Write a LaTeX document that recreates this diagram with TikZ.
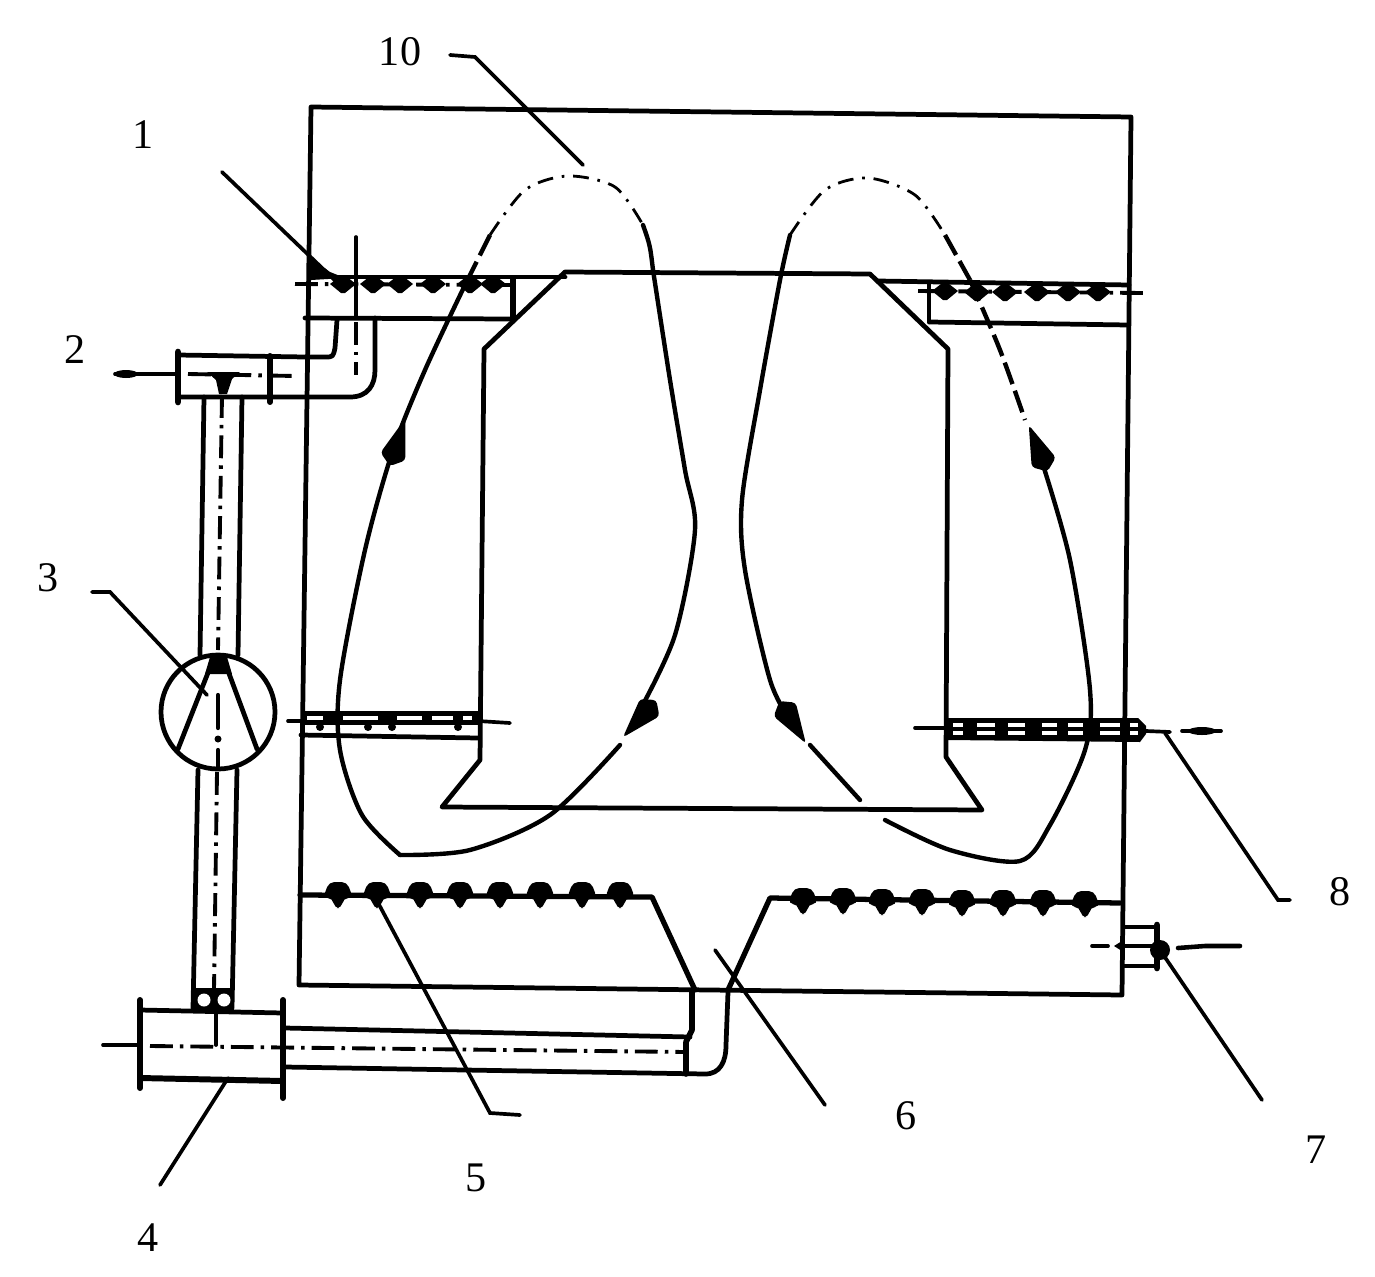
\documentclass[tikz,border=0pt]{standalone}
\usepackage{fontspec}
\setmainfont{Liberation Serif}
\tikzset{
 ln/.style={line width=2.7pt,line cap=round,line join=round},
 thn/.style={line width=2.1pt,line cap=round},
 cl/.style={line width=2.2pt,dash pattern=on 13pt off 4pt on 2pt off 4pt},
 flowdash/.style={line width=1.6pt,dash pattern=on 9pt off 5pt on 1.5pt off 5pt},
 flowlong/.style={line width=2.5pt,dash pattern=on 13pt off 4pt},
 flow/.style={line width=2.5pt,line cap=round,line join=round},
 lab/.style={font=\fontsize{24}{24}\selectfont,inner sep=0pt}
}
\newcommand\dia[2]{\fill[shift={(#1,#2)}] (-13,0) -- (-4,-7) -- (4,-7) -- (13,0) -- (2,9) -- (-2,9) -- cycle;}
\newcommand\blob[2]{\fill[shift={(#1,#2)},rounded corners=3pt] (-15,5) -- (-9,-11) -- (9,-11) -- (15,5) -- (5,5) -- (4,15) -- (-4,15) -- (-5,5) -- cycle;}
\newcommand\head[3]{\fill[shift={(#1,#2)},rotate=#3,rounded corners=2pt] (30,0) -- (-10,-13) -- (-20,0) -- (-10,13) -- cycle;}
\begin{document}
\begin{tikzpicture}[x=0.02cm,y=-0.02cm]
\useasboundingbox (0,0) rectangle (1375,1277);
% labels
\node[lab] (n10) at (400,52) {10};
\node[lab] (n1) at (143,135) {1};
\node[lab] (n2) at (75,350) {2};
\node[lab] (n3) at (48,578) {3};
\node[lab] (n4) at (148,1238) {4};
\node[lab] (n5) at (476,1178) {5};
\node[lab] (n6) at (906,1116) {6};
\node[lab] (n7) at (1316,1150) {7};
\node[lab] (n8) at (1340,892) {8};
% vessel
\draw[ln] (311,107) -- (1131,117) -- (1122,995) -- (299,985) -- cycle;
% inner body
\draw[ln] (565,272) -- (870,274) -- (948,349) -- (946,757) -- (982,810) -- (442,807) -- (480,760) -- (484,349) -- cycle;
% top left duct
\draw[ln] (310,277) -- (565,277);
\draw[ln] (305,318) -- (510,319);
\draw[ln,line width=3.2pt] (513,278) -- (513,318);
\draw[cl] (295,284) -- (510,285);
\foreach \x in {343,373,400,433,470,493} {\dia{\x}{284}}
\fill (311,258) -- (330,272) -- (345,278) -- (311,280) -- cycle;
% top right duct
\draw[ln] (878,281) -- (1129,285);
\draw[ln] (930,322) -- (1128,325);
\draw[ln] (929,285) -- (929,322);
\draw[cl] (918,291) -- (1143,293);
\foreach \x/\y in {945/291,977/292,1005/292,1037/292,1068/292,1098/292} {\dia{\x}{\y}}
% feed duct from 2
\draw[ln] (178,355) -- (305,357) -- (325,357) .. controls (333,357) .. (335,348) -- (337,320);
\draw[ln] (178,397) -- (350,397) .. controls (368,397) and (375,385) .. (375,370) -- (375,318);
\draw[ln,line width=3.8pt] (178,352) -- (178,402);
\draw[ln,line width=3.4pt] (270,356) -- (270,402);
\draw[cl] (188,374) -- (295,376);
\draw[thn] (115,374) -- (178,374);
\fill (126,374) ellipse[x radius=12,y radius=4];
\draw[thn] (356,237) -- (356,316);
\draw[cl] (356,322) -- (356,375);
% riser pipe
\draw[ln] (204,397) -- (200,655);
\draw[ln] (242,397) -- (238,655);
\draw[ln] (198,770) -- (193,1008);
\draw[ln] (237,770) -- (232,1008);
\draw[cl] (222,395) -- (218,650);
\draw[cl] (217,772) -- (214,990);
\fill (207,372) -- (240,372) -- (232,379) -- (227,394) -- (219,394) -- (216,380) -- cycle;
\fill (192,988) rectangle (234,1010);
\fill[white] (204,1000) circle[radius=6.5];
\fill[white] (224,1000) circle[radius=6.5];
% pump 3
\draw[ln] (218,712) circle[radius=57];
\fill (210,657) -- (227,657) -- (232,674) -- (205,674) -- cycle;
\draw[ln] (213,660) -- (178,749);
\draw[ln] (224,660) -- (257,749);
\draw[thn,line width=2.4pt] (218,695) -- (218,728);
\fill (218,739) circle[radius=3.5];
\draw[thn,line width=2.4pt] (218,750) -- (218,768);
% unit 4
\draw[ln] (140,1010) -- (283,1013);
\draw[ln,line width=3.4pt] (140,1078) -- (283,1081);
\draw[ln,line width=3.4pt] (140,1000) -- (140,1088);
\draw[ln,line width=3.4pt] (283,1000) -- (283,1098);
\draw[thn] (103,1045) -- (140,1045);
\draw[cl] (150,1046) -- (686,1052);
\draw[thn] (216,1012) -- (216,1045);
% bottom duct
\draw[ln] (285,1028) -- (690,1037);
\draw[ln] (285,1067) -- (705,1074) .. controls (720,1074) and (726,1062) .. (726,1045) -- (728,992);
\draw[ln,line width=3.2pt] (692,992) -- (692,1030) -- (686,1042) -- (686,1074);
% plates
\draw[ln,line width=3pt] (300,895) -- (652,897) -- (695,990);
\draw[ln,line width=3pt] (1120,903) -- (770,898) -- (728,990);
\foreach \x in {338,377,420,460,500,540,582,620} {\blob{\x}{893}}
\foreach \x/\y in {803/899,843/899,882/900,922/900,962/901,1003/901,1043/901,1085/902} {\blob{\x}{\y}}
% mid left duct
\fill (301,711) rectangle (478,725);
\foreach \a/\b in {307/323,343/378,397/422,432/453,463/472} {
  \fill[white] (\a,716) rectangle (\b,720);
}
\draw[ln] (301,735) -- (478,738);
\draw[thn] (288,721) -- (301,721);
\draw[thn] (478,721) -- (510,723);
\foreach \x in {320,368,392,458} {\fill (\x,727) circle[radius=4];}
% mid right duct
\fill (947,718) -- (1138,718) -- (1146,726) -- (1146,734) -- (1140,742) -- (947,740) -- cycle;
\foreach \a/\b in {953/963,977/995,1008/1025,1042/1057,1068/1083,1100/1120,1130/1138} {
  \fill[white] (\a,723) rectangle (\b,727);
  \fill[white] (\a,731) rectangle (\b,735);
}
\draw[thn] (915,728) -- (947,728);
\draw[thn] (1146,731) -- (1170,732);
\draw[thn] (1182,731) -- (1221,731);
\fill (1202,731) ellipse[x radius=14,y radius=4];
% inlet 7
\draw[ln] (1125,927) -- (1155,927);
\draw[ln] (1125,946) -- (1155,946);
\draw[ln] (1125,966) -- (1155,966);
\draw[ln,line width=3.8pt] (1157,925) -- (1157,968);
\fill (1160,950) circle[radius=10];
\draw[thn] (1092,946) -- (1108,946);
\fill (1114,946) -- (1122,941) -- (1122,951) -- cycle;
\draw[thn,line width=2.6pt] (1178,948) -- (1205,946) -- (1240,946);
% leaders
\coordinate (l10a) at (450,55); \coordinate (l10b) at (475,57); \coordinate (l10c) at (583,165);
\coordinate (l1a) at (222,172); \coordinate (l1b) at (345,290);
\coordinate (l3a) at (92,592); \coordinate (l3b) at (110,592); \coordinate (l3c) at (207,695);
\coordinate (l4a) at (160,1185); \coordinate (l4b) at (228,1078);
\coordinate (l5a) at (520,1115); \coordinate (l5b) at (490,1113); \coordinate (l5c) at (375,897);
\coordinate (l6a) at (715,950); \coordinate (l6b) at (825,1105);
\coordinate (l7a) at (1160,950); \coordinate (l7b) at (1262,1100);
\coordinate (l8a) at (1165,733); \coordinate (l8b) at (1278,900); \coordinate (l8c) at (1290,900);
\draw[thn] (l10a) -- (l10b) -- (l10c);
\draw[thn] (l1a) -- (l1b);
\draw[thn] (l3a) -- (l3b) -- (l3c);
\draw[thn] (l4a) -- (l4b);
\draw[thn] (l5a) -- (l5b) -- (l5c);
\draw[thn] (l6a) -- (l6b);
\draw[thn] (l7a) -- (l7b);
\draw[thn] (l8a) -- (l8b) -- (l8c);
% left flow loop
\draw[flowdash] plot[smooth] coordinates {(490,235) (525,190) (568,176) (615,187) (643,225)};
\draw[flowlong] (490,235) -- (465,285);
\draw[flow] (643,225) .. controls (650,245) .. (653,270);
\draw[flow] plot[smooth] coordinates {(465,285) (425,370) (393,450) (365,550) (340,680) (340,750) (362,815) (400,855)};
\draw[flow] plot[smooth] coordinates {(400,855) (470,850) (550,815) (620,745)};
\draw[flow] plot[smooth] coordinates {(640,710) (675,635) (695,530) (685,470) (670,380) (653,270)};
\head{396}{447}{72}
\head{643}{715}{228}
% right flow loop
\draw[flowdash] plot[smooth] coordinates {(790,235) (825,190) (868,178) (915,195) (945,235)};
\draw[flowlong] (945,235) -- (970,280);
\draw[flow] plot[smooth] coordinates {(790,235) (780,280) (760,390) (742,500) (745,570) (770,680) (790,720)};
\draw[flow] plot[smooth] coordinates {(810,745) (860,800)};
\draw[flow] plot[smooth] coordinates {(885,820) (950,850) (1020,861) (1050,825) (1085,750) (1090,690) (1070,560) (1043,465)};
\draw[flowlong] plot[smooth] coordinates {(970,280) (1000,350) (1025,420)};
\head{1040}{453}{112}
\head{790}{718}{-58}
\end{tikzpicture}
\end{document}
